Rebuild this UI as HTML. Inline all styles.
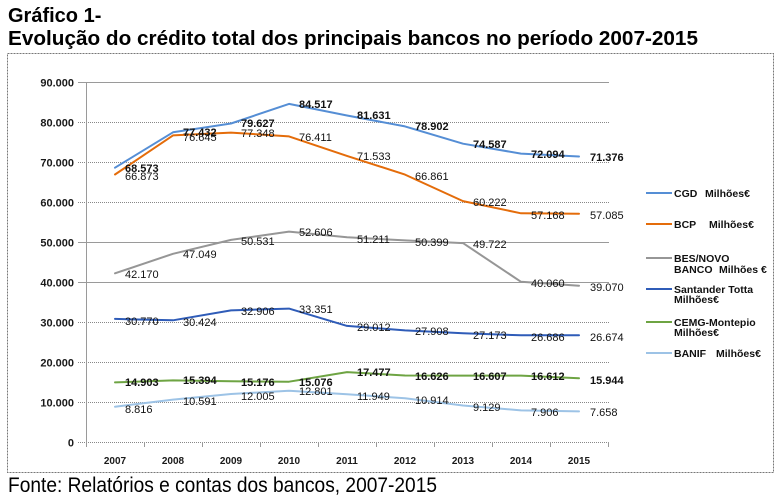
<!DOCTYPE html>
<html><head><meta charset="utf-8"><style>
html,body{margin:0;padding:0;background:#fff;}
svg{display:block;font-family:"Liberation Sans",Arial,sans-serif;}
</style></head><body>
<svg width="780" height="502" viewBox="0 0 780 502" xmlns="http://www.w3.org/2000/svg">
<rect x="0" y="0" width="780" height="502" fill="#fff"/>
<!-- titles -->
<text x="8" y="22" font-size="20" font-weight="bold" fill="#000">Gráfico 1-</text>
<text x="8" y="45" font-size="20" font-weight="bold" fill="#000" textLength="690" lengthAdjust="spacingAndGlyphs">Evolução do crédito total dos principais bancos no período 2007-2015</text>
<!-- chart border -->
<rect x="7.5" y="53.5" width="766" height="419" fill="none" stroke="#777" stroke-width="1" stroke-dasharray="2,1"/>
<!-- gridlines -->
<g stroke-width="1">
<line x1="78" y1="82.5" x2="609" y2="82.5" stroke="#9a9a9a"/>
<line x1="78" y1="122.5" x2="609" y2="122.5" stroke="#888" stroke-dasharray="1,1"/>
<line x1="78" y1="162.5" x2="609" y2="162.5" stroke="#888" stroke-dasharray="1,1"/>
<line x1="78" y1="202.5" x2="609" y2="202.5" stroke="#888" stroke-dasharray="1,1"/>
<line x1="78" y1="242.5" x2="609" y2="242.5" stroke="#9a9a9a"/>
<line x1="78" y1="282.5" x2="609" y2="282.5" stroke="#9a9a9a"/>
<line x1="78" y1="322.5" x2="609" y2="322.5" stroke="#888" stroke-dasharray="1,1"/>
<line x1="78" y1="362.5" x2="609" y2="362.5" stroke="#888" stroke-dasharray="1,1"/>
<line x1="78" y1="402.5" x2="609" y2="402.5" stroke="#888" stroke-dasharray="1,1"/>
<line x1="78" y1="442.5" x2="609" y2="442.5" stroke="#888" stroke-dasharray="1,1"/>
</g>
<!-- y axis -->
<line x1="86.5" y1="82" x2="86.5" y2="447" stroke="#9a9a9a"/>
<!-- x ticks -->
<g stroke="#9a9a9a">
<line x1="144.5" y1="442" x2="144.5" y2="447"/>
<line x1="202.5" y1="442" x2="202.5" y2="447"/>
<line x1="260.5" y1="442" x2="260.5" y2="447"/>
<line x1="318.5" y1="442" x2="318.5" y2="447"/>
<line x1="376.5" y1="442" x2="376.5" y2="447"/>
<line x1="434.5" y1="442" x2="434.5" y2="447"/>
<line x1="492.5" y1="442" x2="492.5" y2="447"/>
<line x1="550.5" y1="442" x2="550.5" y2="447"/>
<line x1="608.5" y1="442" x2="608.5" y2="447"/>
</g>
<!-- y labels -->
<g font-size="11" font-weight="bold" fill="#1a1a1a" text-anchor="end">
<text x="74" y="86.5">90.000</text>
<text x="74" y="126.5">80.000</text>
<text x="74" y="166.5">70.000</text>
<text x="74" y="206.5">60.000</text>
<text x="74" y="246.5">50.000</text>
<text x="74" y="286.5">40.000</text>
<text x="74" y="326.5">30.000</text>
<text x="74" y="366.5">20.000</text>
<text x="74" y="406.5">10.000</text>
<text x="74" y="446.5">0</text>
</g>
<!-- x labels -->
<g font-size="10" font-weight="bold" fill="#1a1a1a" text-anchor="middle">
<text x="115" y="464">2007</text>
<text x="173" y="464">2008</text>
<text x="231" y="464">2009</text>
<text x="289" y="464">2010</text>
<text x="347" y="464">2011</text>
<text x="405" y="464">2012</text>
<text x="463" y="464">2013</text>
<text x="521" y="464">2014</text>
<text x="579" y="464">2015</text>
</g>
<!-- series -->
<g fill="none" stroke-width="2" stroke-linejoin="round" stroke-linecap="round">
<polyline stroke="#558ed5" points="115,167.7 173,132.3 231,123.5 289,103.9 347,115.5 405,126.4 463,143.7 521,153.6 579,156.5"/>
<polyline stroke="#e46c0a" points="115,174.5 173,135.4 231,132.6 289,136.4 347,155.9 405,174.6 463,201.1 521,213.3 579,213.7"/>
<polyline stroke="#969696" points="115,273.3 173,253.8 231,239.9 289,231.6 347,237.2 405,240.4 463,243.1 521,281.8 579,285.7"/>
<polyline stroke="#2f5cb8" points="115,318.9 173,320.3 231,310.4 289,308.6 347,325.9 405,330.4 463,333.3 521,335.3 579,335.3"/>
<polyline stroke="#6ea443" points="115,382.4 173,380.4 231,381.3 289,381.7 347,372.1 405,375.5 463,375.6 521,375.6 579,378.2"/>
<polyline stroke="#9dc3e6" points="115,406.7 173,399.6 231,394.0 289,390.8 347,394.2 405,398.3 463,405.5 521,410.4 579,411.4"/>
</g>
<!-- data labels -->
<g font-size="11" fill="#111">
<g font-weight="bold">
<text x="125" y="172">68.573</text>
<text x="183" y="136">77.432</text>
<text x="241" y="127">79.627</text>
<text x="299" y="108">84.517</text>
<text x="357" y="119">81.631</text>
<text x="415" y="130">78.902</text>
<text x="473" y="148">74.587</text>
<text x="531" y="158">72.094</text>
<text x="590" y="161">71.376</text>
</g>
<text x="125" y="180">66.873</text>
<text x="183" y="141">76.645</text>
<text x="241" y="137">77.348</text>
<text x="299" y="141">76.411</text>
<text x="357" y="160">71.533</text>
<text x="415" y="180">66.861</text>
<text x="473" y="206">60.222</text>
<text x="531" y="219">57.168</text>
<text x="590" y="219">57.085</text>

<text x="125" y="278">42.170</text>
<text x="183" y="258">47.049</text>
<text x="241" y="245">50.531</text>
<text x="299" y="236">52.606</text>
<text x="357" y="243">51.211</text>
<text x="415" y="246">50.399</text>
<text x="473" y="248">49.722</text>
<text x="531" y="287">40.060</text>
<text x="590" y="291">39.070</text>

<text x="125" y="325">30.770</text>
<text x="183" y="326">30.424</text>
<text x="241" y="315">32.906</text>
<text x="299" y="313">33.351</text>
<text x="357" y="331">29.012</text>
<text x="415" y="335">27.908</text>
<text x="473" y="339">27.173</text>
<text x="531" y="341">26.686</text>
<text x="590" y="341">26.674</text>

<g font-weight="bold">
<text x="125" y="386">14.903</text>
<text x="183" y="384">15.394</text>
<text x="241" y="386">15.176</text>
<text x="299" y="386">15.076</text>
<text x="357" y="376">17.477</text>
<text x="415" y="380">16.626</text>
<text x="473" y="380">16.607</text>
<text x="531" y="380">16.612</text>
<text x="590" y="384">15.944</text>
</g>
<text x="125" y="413">8.816</text>
<text x="183" y="405">10.591</text>
<text x="241" y="400">12.005</text>
<text x="299" y="395">12.801</text>
<text x="357" y="400">11.949</text>
<text x="415" y="404">10.914</text>
<text x="473" y="411">9.129</text>
<text x="531" y="416">7.906</text>
<text x="590" y="416">7.658</text>
</g>
<!-- legend -->
<g stroke-width="2">
<line x1="646" y1="193" x2="672" y2="193" stroke="#558ed5"/>
<line x1="646" y1="224" x2="672" y2="224" stroke="#e46c0a"/>
<line x1="646" y1="258" x2="672" y2="258" stroke="#969696"/>
<line x1="646" y1="289" x2="672" y2="289" stroke="#2f5cb8"/>
<line x1="646" y1="322" x2="672" y2="322" stroke="#6ea443"/>
<line x1="646" y1="353" x2="672" y2="353" stroke="#9dc3e6"/>
</g>
<g font-size="10.5" font-weight="bold" fill="#111">
<text x="674" y="197">CGD</text><text x="705" y="197">Milhões€</text>
<text x="674" y="228">BCP</text><text x="709" y="228">Milhões€</text>
<text x="674" y="262">BES/NOVO</text>
<text x="674" y="273">BANCO</text><text x="719" y="273">Milhões €</text>
<text x="674" y="293">Santander Totta</text>
<text x="674" y="303">Milhões€</text>
<text x="674" y="326">CEMG-Montepio</text>
<text x="674" y="336">Milhões€</text>
<text x="674" y="357">BANIF</text><text x="716" y="357">Milhões€</text>
</g>
<!-- footer -->
<text x="8" y="492" font-size="21" fill="#000" textLength="429" lengthAdjust="spacingAndGlyphs">Fonte: Relatórios e contas dos bancos, 2007-2015</text>
</svg>
</body></html>
